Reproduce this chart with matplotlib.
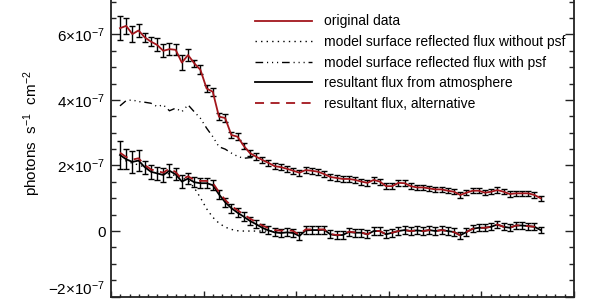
import numpy as np
import matplotlib
matplotlib.use("Agg")
import matplotlib.pyplot as plt
import matplotlib.transforms as mtransforms
from matplotlib.ticker import FixedLocator, MultipleLocator, FixedFormatter

plt.rcParams['font.family'] = ['Liberation Sans', 'DejaVu Sans']
plt.rcParams['mathtext.fontset'] = 'custom'
plt.rcParams['mathtext.rm'] = 'Liberation Sans'

# ---------------- data (flux in units of 1e-7 photons s^-1 cm^-2) ----------------
x = np.linspace(0.97, 46.4, 69)

original = [6.19, 6.26, 6.01, 6.12, 5.91, 5.78, 5.68, 5.50, 5.55, 5.53,
            5.14, 5.37, 5.12, 4.92, 4.35, 4.25, 3.49, 3.45, 2.93, 2.88,
            2.60, 2.38, 2.27, 2.17, 2.08, 1.98, 1.95, 1.90, 1.84, 1.78,
            1.86, 1.84, 1.81, 1.74, 1.65, 1.62, 1.59, 1.59, 1.56, 1.51,
            1.47, 1.56, 1.51, 1.37, 1.37, 1.47, 1.46, 1.37, 1.33, 1.33,
            1.30, 1.27, 1.27, 1.23, 1.20, 1.10, 1.17, 1.23, 1.23, 1.17,
            1.20, 1.25, 1.20, 1.13, 1.15, 1.15, 1.15, 1.10, 1.00]
original_err = [0.36, 0.25, 0.24, 0.21, 0.14, 0.14, 0.20, 0.20, 0.18, 0.17,
                0.22, 0.18, 0.11, 0.14, 0.11, 0.12, 0.11, 0.11, 0.10, 0.10,
                0.10, 0.10, 0.10, 0.09, 0.09, 0.09, 0.09, 0.09, 0.09, 0.09,
                0.09, 0.09, 0.09, 0.09, 0.09, 0.09, 0.09, 0.09, 0.09, 0.09,
                0.09, 0.09, 0.09, 0.09, 0.09, 0.09, 0.09, 0.09, 0.08, 0.08,
                0.08, 0.08, 0.08, 0.08, 0.08, 0.08, 0.08, 0.08, 0.08, 0.08,
                0.08, 0.08, 0.08, 0.08, 0.08, 0.08, 0.08, 0.08, 0.08]

resultant = [2.32, 2.19, 2.11, 2.15, 1.95, 1.81, 1.76, 1.71, 1.84, 1.73,
             1.51, 1.60, 1.49, 1.46, 1.46, 1.40, 1.12, 0.88, 0.70, 0.56,
             0.44, 0.31, 0.21, 0.10, 0.02, -0.04, -0.06, -0.04, -0.06, -0.15,
             0.02, 0.03, 0.03, 0.04, -0.10, -0.13, -0.12, -0.03, -0.05, -0.05,
             -0.10, 0.00, 0.00, -0.10, -0.05, 0.00, 0.03, 0.00, 0.02, 0.00,
             0.03, 0.00, 0.03, 0.00, -0.03, -0.13, -0.03, 0.07, 0.10, 0.10,
             0.13, 0.20, 0.13, 0.10, 0.17, 0.17, 0.15, 0.13, 0.03]
resultant_err = [0.43, 0.30, 0.33, 0.33, 0.20, 0.22, 0.20, 0.22, 0.20, 0.18,
                 0.20, 0.17, 0.15, 0.15, 0.15, 0.15, 0.14, 0.14, 0.14, 0.13,
                 0.13, 0.13, 0.13, 0.13, 0.12, 0.12, 0.12, 0.12, 0.12, 0.12,
                 0.12, 0.12, 0.12, 0.12, 0.12, 0.12, 0.12, 0.12, 0.12, 0.12,
                 0.12, 0.12, 0.12, 0.12, 0.12, 0.12, 0.12, 0.12, 0.12, 0.12,
                 0.11, 0.11, 0.11, 0.11, 0.11, 0.11, 0.11, 0.11, 0.11, 0.11,
                 0.11, 0.11, 0.11, 0.11, 0.11, 0.11, 0.11, 0.11, 0.10]

alternative = [2.39, 2.26, 2.18, 2.22, 2.02, 1.88, 1.83, 1.78, 1.91, 1.80,
               1.58, 1.67, 1.56, 1.53, 1.53, 1.47, 1.19, 0.95, 0.77, 0.63,
               0.51, 0.38, 0.28, 0.17, 0.09, 0.03, 0.01, 0.03, 0.00, -0.11,
               0.05, 0.05, 0.05, 0.05, -0.09, -0.12, -0.11, -0.02, -0.04, -0.04,
               -0.10, 0.00, 0.00, -0.10, -0.05, 0.00, 0.03, 0.00, 0.02, 0.00,
               0.03, 0.00, 0.03, 0.00, -0.03, -0.13, -0.03, 0.07, 0.10, 0.10,
               0.13, 0.20, 0.13, 0.10, 0.17, 0.17, 0.15, 0.13, 0.03]

model_psf = [3.82, 3.98, 4.00, 3.95, 3.93, 3.90, 3.80, 3.85, 3.67, 3.75,
             3.64, 3.85, 3.64, 3.44, 3.14, 2.88, 2.57, 2.50, 2.38, 2.28,
             2.22, 2.24, 2.24]

model_nopsf = [2.20, 2.14, 2.07, 2.02, 1.95, 1.88, 1.82, 1.78, 1.74, 1.69,
               1.62, 1.55, 1.32, 1.02, 0.68, 0.42, 0.24, 0.12, 0.05, 0.01,
               0.00, 0.00, 0.00, 0.00, 0.00, 0.00, 0.00]

ytick_vals = [-2, 0, 2, 4, 6]
ytick_labels = [r'$\mathregular{-2{\times}10^{-7}}$', '0',
                r'$\mathregular{2{\times}10^{-7}}$',
                r'$\mathregular{4{\times}10^{-7}}$',
                r'$\mathregular{6{\times}10^{-7}}$']
labels = ['original data',
          'model surface reflected flux without psf',
          'model surface reflected flux with psf',
          'resultant flux from atmosphere',
          'resultant flux, alternative']
ylabel = r'photons  s$\mathregular{^{-1}}$  cm$\mathregular{^{-2}}$'

RED = '#a3161c'

# ---------------- figure ----------------
fig = plt.figure(figsize=(6, 3), dpi=100)
ax = fig.add_axes([111 / 600, 3.4 / 300, 463 / 600, 327.75 / 300])

# upper: original data with error bars
ax.errorbar(x, original, yerr=original_err, fmt='none', ecolor='black',
            elinewidth=1.0, capsize=2.2, capthick=1.0, zorder=3)
l_orig, = ax.plot(x, original, color=RED, lw=1.3, zorder=4, label=labels[0])

# model curves
l_nopsf, = ax.plot(x[:len(model_nopsf)], model_nopsf, color='black', lw=1.0,
                   linestyle=(0, (1.0, 3.0)), zorder=2, label=labels[1])
l_psf, = ax.plot(x[:len(model_psf)], model_psf, color='black', lw=1.0,
                 linestyle=(0, (5.5, 2.8, 0.8, 2.8, 0.8, 2.8, 0.8, 2.8)),
                 zorder=2, label=labels[2])

# lower: resultant flux
ax.errorbar(x, resultant, yerr=resultant_err, fmt='none', ecolor='black',
            elinewidth=1.0, capsize=2.2, capthick=1.0, zorder=3)
l_res, = ax.plot(x, resultant, color='black', lw=1.3, zorder=4, label=labels[3])
l_alt, = ax.plot(x, alternative, color=RED, lw=1.3, linestyle=(0, (5, 3.6)),
                 zorder=5, label=labels[4])

ax.set_xlim(0, 50)
ax.set_ylim(-2, 8)
ax.xaxis.set_major_locator(MultipleLocator(10))
ax.xaxis.set_minor_locator(MultipleLocator(1))
ax.yaxis.set_major_locator(FixedLocator(ytick_vals))
ax.yaxis.set_major_formatter(FixedFormatter(ytick_labels))
ax.yaxis.set_minor_locator(MultipleLocator(0.5))

ax.tick_params(axis='both', which='both', direction='in', top=True, right=True,
               width=1.0, color='#222222')
ax.tick_params(axis='y', which='major', length=6.5, labelsize=11, pad=4)
ax.tick_params(axis='y', which='minor', length=3.6)
ax.tick_params(axis='x', which='major', length=4.5, labelbottom=False)
ax.tick_params(axis='x', which='minor', length=2.3)
for s in ax.spines.values():
    s.set_linewidth(1.3)
    s.set_color('#222222')

# lift the bottom tick label slightly so it stays inside the canvas
fig.canvas.draw()
ylabels_txt = ax.get_yticklabels()
shift = mtransforms.ScaledTranslation(0, 6.5 / 72, fig.dpi_scale_trans)
ylabels_txt[0].set_transform(ylabels_txt[0].get_transform() + shift)

ax.set_ylabel(ylabel, fontsize=11)
ax.yaxis.set_label_coords(-0.147, 0.5)

leg = ax.legend(handles=[l_orig, l_nopsf, l_psf, l_res, l_alt], labels=labels,
                loc='upper left', bbox_to_anchor=(255 / 600, 1 - 14.5 / 300),
                bbox_transform=fig.transFigure, frameon=False, fontsize=10,
                handlelength=4.1, handletextpad=0.85, labelspacing=0.47,
                borderpad=0, borderaxespad=0)

fig.savefig('out.png', dpi=100)
